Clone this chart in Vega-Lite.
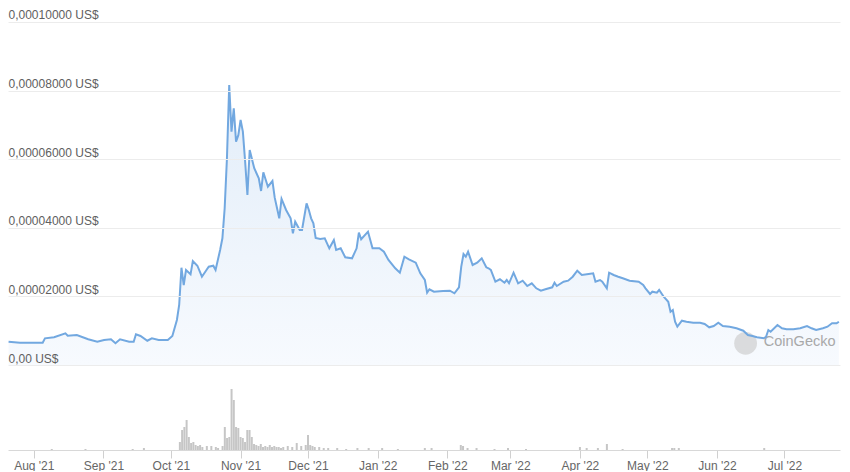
{
  "$schema": "https://vega.github.io/schema/vega-lite/v6.json",
  "padding": {"left": 4, "right": 6, "top": 0, "bottom": 0},
  "background": "white",
  "spacing": 0,
  "config": {"view": {"stroke": null}, "font": "Liberation Sans", "concat": {"spacing": 0}},
  "datasets": {
    "price": [
      {"date": "2021-07-23", "price": 6.79e-6},
      {"date": "2021-07-28", "price": 6.50e-6},
      {"date": "2021-08-07", "price": 6.50e-6},
      {"date": "2021-08-08", "price": 7.78e-6},
      {"date": "2021-08-12", "price": 8.08e-6},
      {"date": "2021-08-17", "price": 9.24e-6},
      {"date": "2021-08-18", "price": 8.54e-6},
      {"date": "2021-08-22", "price": 8.75e-6},
      {"date": "2021-08-27", "price": 7.49e-6},
      {"date": "2021-08-31", "price": 6.79e-6},
      {"date": "2021-09-03", "price": 7.29e-6},
      {"date": "2021-09-06", "price": 7.49e-6},
      {"date": "2021-09-08", "price": 6.33e-6},
      {"date": "2021-09-10", "price": 7.49e-6},
      {"date": "2021-09-14", "price": 6.79e-6},
      {"date": "2021-09-16", "price": 6.79e-6},
      {"date": "2021-09-17", "price": 8.95e-6},
      {"date": "2021-09-19", "price": 8.45e-6},
      {"date": "2021-09-22", "price": 7.08e-6},
      {"date": "2021-09-24", "price": 7.78e-6},
      {"date": "2021-09-27", "price": 7.29e-6},
      {"date": "2021-10-01", "price": 7.29e-6},
      {"date": "2021-10-03", "price": 8.45e-6},
      {"date": "2021-10-05", "price": 1.312e-5},
      {"date": "2021-10-06", "price": 1.749e-5},
      {"date": "2021-10-07", "price": 2.837e-5},
      {"date": "2021-10-08", "price": 2.332e-5},
      {"date": "2021-10-09", "price": 2.770e-5},
      {"date": "2021-10-11", "price": 2.644e-5},
      {"date": "2021-10-12", "price": 3.032e-5},
      {"date": "2021-10-14", "price": 2.895e-5},
      {"date": "2021-10-16", "price": 2.574e-5},
      {"date": "2021-10-18", "price": 2.770e-5},
      {"date": "2021-10-19", "price": 2.866e-5},
      {"date": "2021-10-21", "price": 2.895e-5},
      {"date": "2021-10-22", "price": 2.770e-5},
      {"date": "2021-10-24", "price": 3.353e-5},
      {"date": "2021-10-25", "price": 3.694e-5},
      {"date": "2021-10-26", "price": 4.569e-5},
      {"date": "2021-10-27", "price": 6.026e-5},
      {"date": "2021-10-28", "price": 8.163e-5},
      {"date": "2021-10-29", "price": 6.802e-5},
      {"date": "2021-10-30", "price": 7.484e-5},
      {"date": "2021-10-31", "price": 6.510e-5},
      {"date": "2021-11-01", "price": 6.700e-5},
      {"date": "2021-11-02", "price": 7.143e-5},
      {"date": "2021-11-03", "price": 6.802e-5},
      {"date": "2021-11-04", "price": 5.927e-5},
      {"date": "2021-11-05", "price": 4.956e-5},
      {"date": "2021-11-06", "price": 6.268e-5},
      {"date": "2021-11-08", "price": 5.735e-5},
      {"date": "2021-11-10", "price": 5.443e-5},
      {"date": "2021-11-11", "price": 5.073e-5},
      {"date": "2021-11-12", "price": 5.618e-5},
      {"date": "2021-11-14", "price": 5.198e-5},
      {"date": "2021-11-16", "price": 5.364e-5},
      {"date": "2021-11-17", "price": 4.878e-5},
      {"date": "2021-11-19", "price": 4.277e-5},
      {"date": "2021-11-20", "price": 4.840e-5},
      {"date": "2021-11-22", "price": 4.519e-5},
      {"date": "2021-11-24", "price": 4.277e-5},
      {"date": "2021-11-25", "price": 3.840e-5},
      {"date": "2021-11-26", "price": 4.178e-5},
      {"date": "2021-11-28", "price": 3.936e-5},
      {"date": "2021-11-29", "price": 3.936e-5},
      {"date": "2021-12-01", "price": 4.714e-5},
      {"date": "2021-12-02", "price": 4.519e-5},
      {"date": "2021-12-03", "price": 4.277e-5},
      {"date": "2021-12-04", "price": 4.131e-5},
      {"date": "2021-12-05", "price": 3.703e-5},
      {"date": "2021-12-07", "price": 3.673e-5},
      {"date": "2021-12-09", "price": 3.694e-5},
      {"date": "2021-12-11", "price": 3.402e-5},
      {"date": "2021-12-13", "price": 3.644e-5},
      {"date": "2021-12-14", "price": 3.353e-5},
      {"date": "2021-12-16", "price": 3.402e-5},
      {"date": "2021-12-18", "price": 3.140e-5},
      {"date": "2021-12-21", "price": 3.111e-5},
      {"date": "2021-12-23", "price": 3.402e-5},
      {"date": "2021-12-24", "price": 3.857e-5},
      {"date": "2021-12-25", "price": 3.665e-5},
      {"date": "2021-12-28", "price": 3.886e-5},
      {"date": "2021-12-30", "price": 3.402e-5},
      {"date": "2022-01-02", "price": 3.402e-5},
      {"date": "2022-01-04", "price": 3.303e-5},
      {"date": "2022-01-06", "price": 3.061e-5},
      {"date": "2022-01-09", "price": 2.819e-5},
      {"date": "2022-01-11", "price": 2.691e-5},
      {"date": "2022-01-13", "price": 3.157e-5},
      {"date": "2022-01-15", "price": 3.082e-5},
      {"date": "2022-01-18", "price": 2.983e-5},
      {"date": "2022-01-20", "price": 2.673e-5},
      {"date": "2022-01-22", "price": 2.478e-5},
      {"date": "2022-01-23", "price": 2.108e-5},
      {"date": "2022-01-24", "price": 2.207e-5},
      {"date": "2022-01-26", "price": 2.137e-5},
      {"date": "2022-01-30", "price": 2.157e-5},
      {"date": "2022-02-02", "price": 2.166e-5},
      {"date": "2022-02-04", "price": 2.090e-5},
      {"date": "2022-02-06", "price": 2.265e-5},
      {"date": "2022-02-07", "price": 2.866e-5},
      {"date": "2022-02-08", "price": 3.236e-5},
      {"date": "2022-02-09", "price": 3.157e-5},
      {"date": "2022-02-10", "price": 3.303e-5},
      {"date": "2022-02-12", "price": 2.915e-5},
      {"date": "2022-02-14", "price": 2.983e-5},
      {"date": "2022-02-16", "price": 3.111e-5},
      {"date": "2022-02-18", "price": 2.848e-5},
      {"date": "2022-02-19", "price": 2.819e-5},
      {"date": "2022-02-20", "price": 2.770e-5},
      {"date": "2022-02-22", "price": 2.429e-5},
      {"date": "2022-02-24", "price": 2.499e-5},
      {"date": "2022-02-26", "price": 2.399e-5},
      {"date": "2022-02-27", "price": 2.478e-5},
      {"date": "2022-02-28", "price": 2.382e-5},
      {"date": "2022-03-02", "price": 2.691e-5},
      {"date": "2022-03-04", "price": 2.382e-5},
      {"date": "2022-03-06", "price": 2.458e-5},
      {"date": "2022-03-08", "price": 2.303e-5},
      {"date": "2022-03-10", "price": 2.382e-5},
      {"date": "2022-03-12", "price": 2.236e-5},
      {"date": "2022-03-14", "price": 2.166e-5},
      {"date": "2022-03-16", "price": 2.207e-5},
      {"date": "2022-03-19", "price": 2.265e-5},
      {"date": "2022-03-20", "price": 2.399e-5},
      {"date": "2022-03-21", "price": 2.303e-5},
      {"date": "2022-03-24", "price": 2.429e-5},
      {"date": "2022-03-26", "price": 2.458e-5},
      {"date": "2022-03-28", "price": 2.574e-5},
      {"date": "2022-03-30", "price": 2.749e-5},
      {"date": "2022-04-01", "price": 2.624e-5},
      {"date": "2022-04-04", "price": 2.653e-5},
      {"date": "2022-04-06", "price": 2.673e-5},
      {"date": "2022-04-07", "price": 2.429e-5},
      {"date": "2022-04-09", "price": 2.478e-5},
      {"date": "2022-04-10", "price": 2.429e-5},
      {"date": "2022-04-12", "price": 2.236e-5},
      {"date": "2022-04-13", "price": 2.691e-5},
      {"date": "2022-04-15", "price": 2.624e-5},
      {"date": "2022-04-17", "price": 2.574e-5},
      {"date": "2022-04-19", "price": 2.528e-5},
      {"date": "2022-04-22", "price": 2.458e-5},
      {"date": "2022-04-26", "price": 2.429e-5},
      {"date": "2022-04-28", "price": 2.332e-5},
      {"date": "2022-04-29", "price": 2.236e-5},
      {"date": "2022-05-01", "price": 2.070e-5},
      {"date": "2022-05-02", "price": 2.137e-5},
      {"date": "2022-05-04", "price": 2.108e-5},
      {"date": "2022-05-05", "price": 2.187e-5},
      {"date": "2022-05-07", "price": 1.991e-5},
      {"date": "2022-05-09", "price": 1.845e-5},
      {"date": "2022-05-10", "price": 1.554e-5},
      {"date": "2022-05-11", "price": 1.603e-5},
      {"date": "2022-05-12", "price": 1.260e-5},
      {"date": "2022-05-13", "price": 1.117e-5},
      {"date": "2022-05-15", "price": 1.292e-5},
      {"date": "2022-05-17", "price": 1.262e-5},
      {"date": "2022-05-20", "price": 1.233e-5},
      {"date": "2022-05-23", "price": 1.233e-5},
      {"date": "2022-05-25", "price": 1.195e-5},
      {"date": "2022-05-27", "price": 1.099e-5},
      {"date": "2022-05-29", "price": 1.137e-5},
      {"date": "2022-05-31", "price": 1.233e-5},
      {"date": "2022-06-02", "price": 1.137e-5},
      {"date": "2022-06-05", "price": 1.117e-5},
      {"date": "2022-06-08", "price": 1.070e-5},
      {"date": "2022-06-11", "price": 1.000e-5},
      {"date": "2022-06-13", "price": 8.75e-6},
      {"date": "2022-06-15", "price": 8.45e-6},
      {"date": "2022-06-17", "price": 8.08e-6},
      {"date": "2022-06-20", "price": 7.78e-6},
      {"date": "2022-06-21", "price": 8.25e-6},
      {"date": "2022-06-22", "price": 1.020e-5},
      {"date": "2022-06-23", "price": 9.71e-6},
      {"date": "2022-06-26", "price": 1.166e-5},
      {"date": "2022-06-28", "price": 1.070e-5},
      {"date": "2022-06-30", "price": 1.041e-5},
      {"date": "2022-07-03", "price": 1.041e-5},
      {"date": "2022-07-06", "price": 1.070e-5},
      {"date": "2022-07-09", "price": 1.137e-5},
      {"date": "2022-07-11", "price": 1.070e-5},
      {"date": "2022-07-13", "price": 1.020e-5},
      {"date": "2022-07-16", "price": 1.070e-5},
      {"date": "2022-07-18", "price": 1.117e-5},
      {"date": "2022-07-20", "price": 1.216e-5},
      {"date": "2022-07-22", "price": 1.216e-5},
      {"date": "2022-07-23", "price": 1.262e-5}
    ],
    "volume": [
      {"date": "2021-08-09", "volume": 1},
      {"date": "2021-08-24", "volume": 1},
      {"date": "2021-09-14", "volume": 1},
      {"date": "2021-09-19", "volume": 2},
      {"date": "2021-10-05", "volume": 8},
      {"date": "2021-10-06", "volume": 20},
      {"date": "2021-10-07", "volume": 23},
      {"date": "2021-10-08", "volume": 30},
      {"date": "2021-10-09", "volume": 13},
      {"date": "2021-10-10", "volume": 7},
      {"date": "2021-10-11", "volume": 8},
      {"date": "2021-10-12", "volume": 5},
      {"date": "2021-10-13", "volume": 4},
      {"date": "2021-10-14", "volume": 5},
      {"date": "2021-10-15", "volume": 3},
      {"date": "2021-10-17", "volume": 4},
      {"date": "2021-10-19", "volume": 4},
      {"date": "2021-10-21", "volume": 3},
      {"date": "2021-10-22", "volume": 2},
      {"date": "2021-10-24", "volume": 4},
      {"date": "2021-10-25", "volume": 23},
      {"date": "2021-10-26", "volume": 12},
      {"date": "2021-10-27", "volume": 13},
      {"date": "2021-10-28", "volume": 61},
      {"date": "2021-10-29", "volume": 50},
      {"date": "2021-10-30", "volume": 23},
      {"date": "2021-10-31", "volume": 22},
      {"date": "2021-11-01", "volume": 13},
      {"date": "2021-11-02", "volume": 12},
      {"date": "2021-11-03", "volume": 8},
      {"date": "2021-11-04", "volume": 20},
      {"date": "2021-11-05", "volume": 20},
      {"date": "2021-11-06", "volume": 13},
      {"date": "2021-11-07", "volume": 6},
      {"date": "2021-11-08", "volume": 5},
      {"date": "2021-11-09", "volume": 4},
      {"date": "2021-11-10", "volume": 6},
      {"date": "2021-11-11", "volume": 3},
      {"date": "2021-11-12", "volume": 4},
      {"date": "2021-11-13", "volume": 3},
      {"date": "2021-11-14", "volume": 5},
      {"date": "2021-11-15", "volume": 3},
      {"date": "2021-11-16", "volume": 4},
      {"date": "2021-11-17", "volume": 3},
      {"date": "2021-11-18", "volume": 3},
      {"date": "2021-11-19", "volume": 2},
      {"date": "2021-11-20", "volume": 3},
      {"date": "2021-11-22", "volume": 4},
      {"date": "2021-11-24", "volume": 3},
      {"date": "2021-11-26", "volume": 7},
      {"date": "2021-11-28", "volume": 4},
      {"date": "2021-11-30", "volume": 5},
      {"date": "2021-12-01", "volume": 15},
      {"date": "2021-12-02", "volume": 5},
      {"date": "2021-12-03", "volume": 4},
      {"date": "2021-12-04", "volume": 3},
      {"date": "2021-12-06", "volume": 3},
      {"date": "2021-12-08", "volume": 2},
      {"date": "2021-12-10", "volume": 2},
      {"date": "2021-12-14", "volume": 2},
      {"date": "2021-12-18", "volume": 1},
      {"date": "2021-12-23", "volume": 2},
      {"date": "2021-12-28", "volume": 2},
      {"date": "2022-01-03", "volume": 2},
      {"date": "2022-01-10", "volume": 1},
      {"date": "2022-01-22", "volume": 2},
      {"date": "2022-01-25", "volume": 2},
      {"date": "2022-02-07", "volume": 5},
      {"date": "2022-02-08", "volume": 4},
      {"date": "2022-02-10", "volume": 2},
      {"date": "2022-02-14", "volume": 2},
      {"date": "2022-02-22", "volume": 1},
      {"date": "2022-02-28", "volume": 2},
      {"date": "2022-03-08", "volume": 1},
      {"date": "2022-04-01", "volume": 3},
      {"date": "2022-04-04", "volume": 2},
      {"date": "2022-04-09", "volume": 2},
      {"date": "2022-04-13", "volume": 6},
      {"date": "2022-04-20", "volume": 1},
      {"date": "2022-05-12", "volume": 2},
      {"date": "2022-05-13", "volume": 2},
      {"date": "2022-05-15", "volume": 2},
      {"date": "2022-06-22", "volume": 2}
    ],
    "logo": [{"date": "2022-06-12", "price": 6.33e-6}],
    "brand": [{"date": "2022-06-20", "price": 6.79e-6, "label": "CoinGecko"}]
  },
  "vconcat": [
    {
      "width": 832,
      "height": 365,
      "encoding": {
        "x": {
          "field": "date", "type": "temporal",
          "scale": {"domain": [{"year": 2021, "month": 7, "date": 22, "hours": 18, "utc": true}, {"year": 2022, "month": 7, "date": 23, "hours": 12, "utc": true}]},
          "axis": null
        },
        "y": {
          "field": "price", "type": "quantitative",
          "scale": {"domain": [0, 0.00010641], "nice": false, "zero": false},
          "axis": {
            "title": null, "values": [0, 0.00002, 0.00004, 0.00006, 0.00008, 0.0001],
            "labelExpr": "datum.value == 0 ? '0,00 US$' : replace(format(datum.value, '.8f'), '.', ',') + ' US$'",
            "ticks": false, "tickSize": 0, "domain": false, "labelAlign": "left", "labelBaseline": "bottom",
            "labelPadding": 0, "labelFontSize": 12, "labelColor": "#606060", "gridColor": "#ececec", "grid": true,
            "zindex": 1
          }
        }
      },
      "layer": [
        {
          "data": {"name": "price"},
          "mark": {
            "type": "area",
            "color": {"gradient": "linear", "x1": 0, "y1": 0, "x2": 0, "y2": 1,
              "stops": [{"offset": 0, "color": "#e2edf9"}, {"offset": 1, "color": "#f7fafe"}]}
          }
        },
        {
          "data": {"name": "logo"},
          "mark": {"type": "point", "filled": true, "color": "#cfcfcf", "opacity": 0.7, "size": 520}
        },
        {
          "data": {"name": "brand"},
          "mark": {"type": "text", "align": "left", "baseline": "middle", "fontSize": 14.5, "color": "#a0a0a0", "opacity": 0.9},
          "encoding": {"text": {"field": "label"}}
        },
        {
          "data": {"name": "price"},
          "mark": {"type": "line", "color": "#72a8e0", "strokeWidth": 2}
        }
      ]
    },
    {
      "width": 832,
      "height": 85,
      "data": {"name": "volume"},
      "mark": {"type": "bar", "width": 2, "color": "#c6c6c6"},
      "encoding": {
        "x": {
          "field": "date", "type": "temporal",
          "scale": {"domain": [{"year": 2021, "month": 7, "date": 22, "hours": 18, "utc": true}, {"year": 2022, "month": 7, "date": 23, "hours": 12, "utc": true}]},
          "axis": {
            "title": null, "format": "%b '%y", "tickCount": {"interval": "month", "step": 1},
            "labelFontSize": 12, "labelColor": "#666666", "tickColor": "#d0d0d0", "tickSize": 8,
            "labelPadding": 2, "domainColor": "#d8d8d8", "grid": false, "labelFlush": false, "labelOverlap": false
          }
        },
        "y": {"field": "volume", "type": "quantitative", "scale": {"domain": [0, 85]}, "axis": null}
      }
    }
  ]
}
